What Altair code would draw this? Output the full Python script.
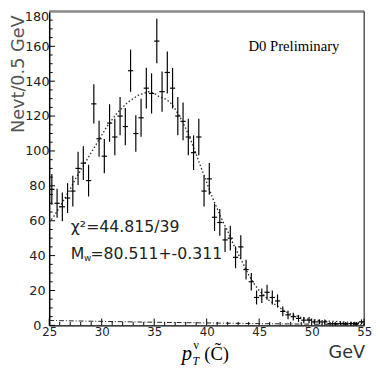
import altair as alt
import pandas as pd
import numpy as np

# ---- data ----
bin_lo = [25.0, 25.5, 26.0, 26.5, 27.0, 27.5, 28.0, 28.5, 29.0, 29.5,
          30.0, 30.5, 31.0, 31.5, 32.0, 32.5, 33.0, 33.5, 34.0, 34.5,
          35.0, 35.5, 36.0, 36.5, 37.0, 37.5, 38.0, 38.5, 39.0, 39.5,
          40.0, 40.5, 41.0, 41.5, 42.0, 42.5, 43.0, 43.5, 44.0, 44.5,
          45.0, 45.5, 46.0, 46.5, 47.0, 47.5, 48.0, 48.5, 49.0, 49.5,
          50.0, 50.5, 51.0, 51.5, 52.0, 52.5, 53.0, 53.5, 54.0, 54.5]
counts = [78, 70, 68, 73, 77, 90, 93, 83, 127, 107,
          97, 116, 108, 120, 114, 146, 110, 119, 136, 133,
          163, 134, 145, 136, 120, 117, 108, 99, 108, 77,
          84, 62, 59, 49, 50, 39, 45, 32, 25, 16,
          17, 19, 16, 14, 8, 6, 5, 4, 3, 3,
          2, 2, 2, 1, 1, 1, 1, 1, 1, 2]

fit_x = [25.0, 25.5, 26.0, 26.5, 27.0, 27.5, 28.0, 28.5, 29.0, 29.5,
         30.0, 30.5, 31.0, 31.5, 32.0, 32.5, 33.0, 33.5, 34.0, 34.5,
         35.0, 35.5, 36.0, 36.5, 37.0, 37.5, 38.0, 38.5, 39.0, 39.5,
         40.0, 40.5, 41.0, 41.5, 42.0, 42.5, 43.0, 43.5, 44.0, 44.5,
         45.0, 45.5, 46.0, 46.5, 47.0, 47.5, 48.0, 48.5, 49.0, 49.5,
         50.0, 51.0, 52.0, 53.0, 54.0, 55.0]
fit_y = [59, 63, 68, 73, 78, 84, 89, 94, 99, 104,
         109, 114, 118, 122, 125, 128, 130, 132, 133, 134,
         133, 131, 130, 128, 124, 119, 113, 106, 98, 90,
         82, 74, 67, 60, 54, 47, 41, 35, 29, 24,
         20, 17, 14, 12, 10, 8, 6.5, 5.5, 4.5, 3.8,
         3.3, 2.7, 2.3, 2.0, 1.7, 1.5]

bkg_x = [25, 30, 35, 40, 45, 50, 55]
bkg_y = [2.8, 2.3, 1.8, 1.4, 1.0, 0.7, 0.5]

x_major = [25, 30, 35, 40, 45, 50, 55]
x_minor = [26, 27, 28, 29, 31, 32, 33, 34, 36, 37, 38, 39, 41, 42, 43, 44,
           46, 47, 48, 49, 51, 52, 53, 54]
y_major = [0, 20, 40, 60, 80, 100, 120, 140, 160, 180]
y_minor = [5, 10, 15, 25, 30, 35, 45, 50, 55, 65, 70, 75, 85, 90, 95,
           105, 110, 115, 125, 130, 135, 145, 150, 155, 165, 170, 175]
y_labels = [0, 20, 40, 60, 80, 100, 120, 140, 160]

W, H = 321, 320
FONT = "DejaVu Sans"
SERIF = "Liberation Serif"
LBL_OFF = 12.5

pts = pd.DataFrame({"lo": bin_lo, "n": counts})
pts["hi"] = pts["lo"] + 0.5
pts["c"] = pts["lo"] + 0.25
pts["err"] = np.sqrt(pts["n"])
pts["elo"] = (pts["n"] - pts["err"]).clip(lower=0)
pts["ehi"] = pts["n"] + pts["err"]

xs = alt.Scale(domain=[25, 55], nice=False, zero=False)
ys = alt.Scale(domain=[0, 180], nice=False, zero=False)

xaxis = alt.Axis(values=x_major, title=None, ticks=False, tickSize=0, grid=False,
                 labelFont=FONT, labelFontSize=12, labelColor="#222",
                 labelPadding=1, labelFlush=False, labelOverlap=False,
                 domainColor="black", domainWidth=1.5)
yaxis = alt.Axis(values=y_labels, title=None, ticks=False, tickSize=0, grid=False,
                 labelFont=FONT, labelFontSize=13, labelColor="#222",
                 labelAlign="center", labelBaseline="middle", labelPadding=LBL_OFF,
                 labelFlush=False, labelOverlap=False,
                 domainColor="black", domainWidth=1.5)

def X(f):
    return alt.X(f, scale=xs, axis=xaxis)

def Y(f):
    return alt.Y(f, scale=ys, axis=yaxis)

ebar = alt.Chart(pts).mark_rule(color="black", strokeWidth=1.2).encode(
    x=X("c:Q"), y=Y("elo:Q"), y2="ehi:Q")
hbar = alt.Chart(pts).mark_rule(color="black", strokeWidth=1.2).encode(
    x=X("lo:Q"), x2="hi:Q", y=Y("n:Q"))
fit = alt.Chart(pd.DataFrame({"x": fit_x, "y": fit_y})).mark_line(
    color="#333", strokeWidth=1.4, strokeDash=[1.5, 2.2]
).encode(x=X("x:Q"), y=Y("y:Q"))
bkg = alt.Chart(pd.DataFrame({"x": bkg_x, "y": bkg_y})).mark_line(
    color="#222", strokeWidth=1, strokeDash=[5, 2, 1, 2]
).encode(x=X("x:Q"), y=Y("y:Q"))

def yt(vals, length):
    return alt.Chart(pd.DataFrame({"v": vals})).mark_rule(color="black", strokeWidth=1).encode(
        y=Y("v:Q"), x=alt.value(0), x2=alt.value(length))

def xt(vals, length):
    return alt.Chart(pd.DataFrame({"v": vals})).mark_rule(color="black", strokeWidth=1).encode(
        x=X("v:Q"), y=alt.value(H), y2=alt.value(H - length))

top_line = alt.Chart(pd.DataFrame({"a": [0]})).mark_rule(color="#888", strokeWidth=2.5).encode(
    y=alt.value(0), x=alt.value(0), x2=alt.value(W))
right_line = alt.Chart(pd.DataFrame({"a": [0]})).mark_rule(color="black", strokeWidth=1).encode(
    x=alt.value(W), y=alt.value(0), y2=alt.value(H))

label180 = alt.Chart(pd.DataFrame({"v": [180], "t": ["180"]})).mark_text(
    font=FONT, fontSize=13, color="#222", align="center", baseline="top"
).encode(y=Y("v:Q"), x=alt.value(-LBL_OFF), text="t:N")

def txt(s, x, y, size, font=FONT, style="normal", color="#222", align="left", angle=0):
    kw = dict(font=font, fontSize=size, fontStyle=style, color=color, align=align,
              baseline="alphabetic")
    if angle:
        kw["angle"] = angle
    return alt.Chart(pd.DataFrame({"t": [s]})).mark_text(**kw).encode(
        x=alt.value(x), y=alt.value(y), text="t:N")

texts = [
    txt("Nevt/0.5 GeV", -25.5, 64, 18, color="#555", align="center", angle=270),
    txt("D0 Preliminary", 203, 40, 15, font=SERIF, color="black"),
    txt("\u03c7\u00b2=44.815/39", 22, 225, 16),
    txt("M", 22, 252, 16),
    txt("w", 35.5, 254, 9),
    txt("=80.511+-0.311", 42, 252, 16),
    txt("GeV", 322, 353, 18, color="#333", align="right"),
    txt("p", 135, 355, 21, font=SERIF, style="italic", color="black"),
    txt("\u03bd", 147, 344, 12, font=SERIF, color="black"),
    txt("T", 146, 360, 12, font=SERIF, style="italic", color="black"),
    txt("(C\u0303)", 158, 355, 19, font=SERIF, color="black"),
]

chart = alt.layer(
    bkg, fit, ebar, hbar,
    yt(y_major, 6), yt(y_minor, 3.5), xt(x_major, 7), xt(x_minor, 3.5),
    top_line, right_line, label180, *texts
).properties(
    width=W, height=H,
    autosize=alt.AutoSizeParams(type="none"),
    padding={"left": 42, "top": 0, "right": 8, "bottom": 42},
    background="white",
).configure_view(strokeWidth=0)

chart.save("out.html", embed_options={"renderer": "svg", "actions": False})
